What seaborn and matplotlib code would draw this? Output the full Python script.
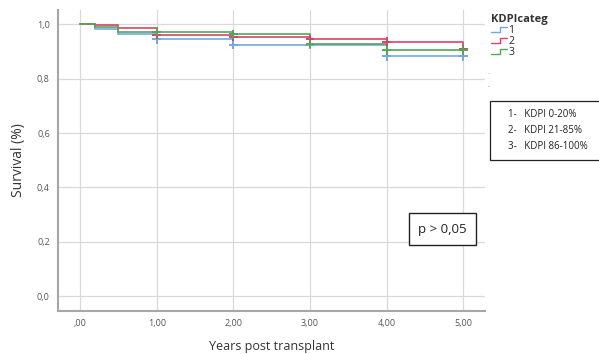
import numpy as np
import pandas as pd
import matplotlib
matplotlib.use("Agg")
import matplotlib.pyplot as plt
import seaborn as sns
from matplotlib.lines import Line2D
from matplotlib.patches import Rectangle
from matplotlib.legend_handler import HandlerBase

# ---- data ----
times = [0.0, 0.2, 0.5, 1.0, 2.0, 3.0, 4.0, 5.0]
surv_1 = [1.0, 0.983, 0.965, 0.945, 0.924, 0.924, 0.882, 0.882]
surv_2 = [1.0, 0.996, 0.988, 0.961, 0.955, 0.945, 0.936, 0.909]
surv_3 = [1.0, 0.991, 0.973, 0.973, 0.963, 0.928, 0.904, 0.904]
censor_times = [1.0, 2.0, 3.0, 4.0, 5.0]
groups = ["1", "2", "3"]
x_ticks = [0, 1, 2, 3, 4, 5]
x_ticklabels = [",00", "1,00", "2,00", "3,00", "4,00", "5,00"]
y_ticks = [0.0, 0.2, 0.4, 0.6, 0.8, 1.0]
y_ticklabels = ["0,0", "0,2", "0,4", "0,6", "0,8", "1,0"]
legend_text = ["1-   KDPI 0-20%", "2-   KDPI 21-85%", "3-   KDPI 86-100%"]

colors = {"1": "#74a9de", "2": "#d8436a", "3": "#55a557"}

rows = []
for g, s in zip(groups, [surv_1, surv_2, surv_3]):
    for t, v in zip(times, s):
        rows.append({"t": t, "surv": v, "group": g})
df = pd.DataFrame(rows)

cens_rows = []
for g, s in zip(groups, [surv_1, surv_2, surv_3]):
    for ct in censor_times:
        v = s[times.index(ct)]
        cens_rows.append({"t": ct, "surv": v, "group": g})
cdf = pd.DataFrame(cens_rows)

sns.set_style("white")
plt.rcParams["font.family"] = ["Open Sans", "DejaVu Sans"]

fig = plt.figure(figsize=(5.99, 3.54), dpi=100)
ax = fig.add_axes([0.097, 0.121, 0.713, 0.851])

sns.lineplot(data=df, x="t", y="surv", hue="group", palette=colors,
             drawstyle="steps-post", linewidth=1.2, legend=False, ax=ax, zorder=3)
sns.scatterplot(data=cdf, x="t", y="surv", hue="group", palette=colors,
                marker="+", s=40, linewidth=1.4, legend=False, ax=ax, zorder=4)

ax.set_xlim(-0.287, 5.287)
ax.set_ylim(-0.055, 1.053)
ax.set_xticks(x_ticks)
ax.set_xticklabels(x_ticklabels)
ax.set_yticks(y_ticks)
ax.set_yticklabels(y_ticklabels)
ax.tick_params(axis="both", length=0, labelsize=6.5, labelcolor="#555555", pad=6)
ax.grid(True, color="#d9d9d9", linewidth=0.9)
ax.set_axisbelow(True)
for sp in ["top", "right"]:
    ax.spines[sp].set_visible(False)
for sp in ["left", "bottom"]:
    ax.spines[sp].set_color("#a6a6a6")
    ax.spines[sp].set_linewidth(1.5)

ax.set_xlabel("Years post transplant", fontsize=9, color="#333333", labelpad=8)
ax.set_ylabel("Survival (%)", fontsize=10, color="#333333", labelpad=8)


class StepHandler(HandlerBase):
    def create_artists(self, legend, orig_handle, xdescent, ydescent, width, height, fontsize, trans):
        x = np.array([0, 0.55, 0.55, 1.0]) * width - xdescent
        y = np.array([0.15, 0.15, 0.85, 0.85]) * height - ydescent
        ln = Line2D(x, y, color=orig_handle.get_color(), linewidth=1.0, transform=trans)
        return [ln]


handles = [Line2D([], [], color=colors[g]) for g in groups]
leg = ax.legend(handles, groups, title="KDPIcateg", loc="upper left",
                bbox_to_anchor=(1.005, 1.0), frameon=False, fontsize=7.5,
                handler_map={Line2D: StepHandler()}, handlelength=1.5,
                handletextpad=0.1, labelspacing=0.0, borderaxespad=0.0)
leg.get_title().set_fontweight("bold")
leg.get_title().set_fontsize(8)
leg.get_title().set_color("#333333")
leg._legend_box.align = "left"

# small dots below legend
fig.text(0.813, 0.79, ".", color=colors["1"], fontsize=6)
fig.text(0.813, 0.755, ".", color=colors["2"], fontsize=6)

# description box (extends past the right edge as in the reference)
fig.patches.append(Rectangle((0.818, 0.548), 0.25, 0.167, transform=fig.transFigure,
                             facecolor="white", edgecolor="#222222", linewidth=0.9))
fig.text(0.848, 0.631, "\n".join(legend_text), fontsize=7, color="#222222",
         va="center", ha="left", linespacing=1.6)

# p-value box
ax.text(4.73, 0.247, "p > 0,05", fontsize=9.5, color="#222222", ha="center", va="center",
        bbox=dict(boxstyle="square,pad=0.7", facecolor="white", edgecolor="#222222", linewidth=1.0))

fig.savefig("out.png", dpi=100)
